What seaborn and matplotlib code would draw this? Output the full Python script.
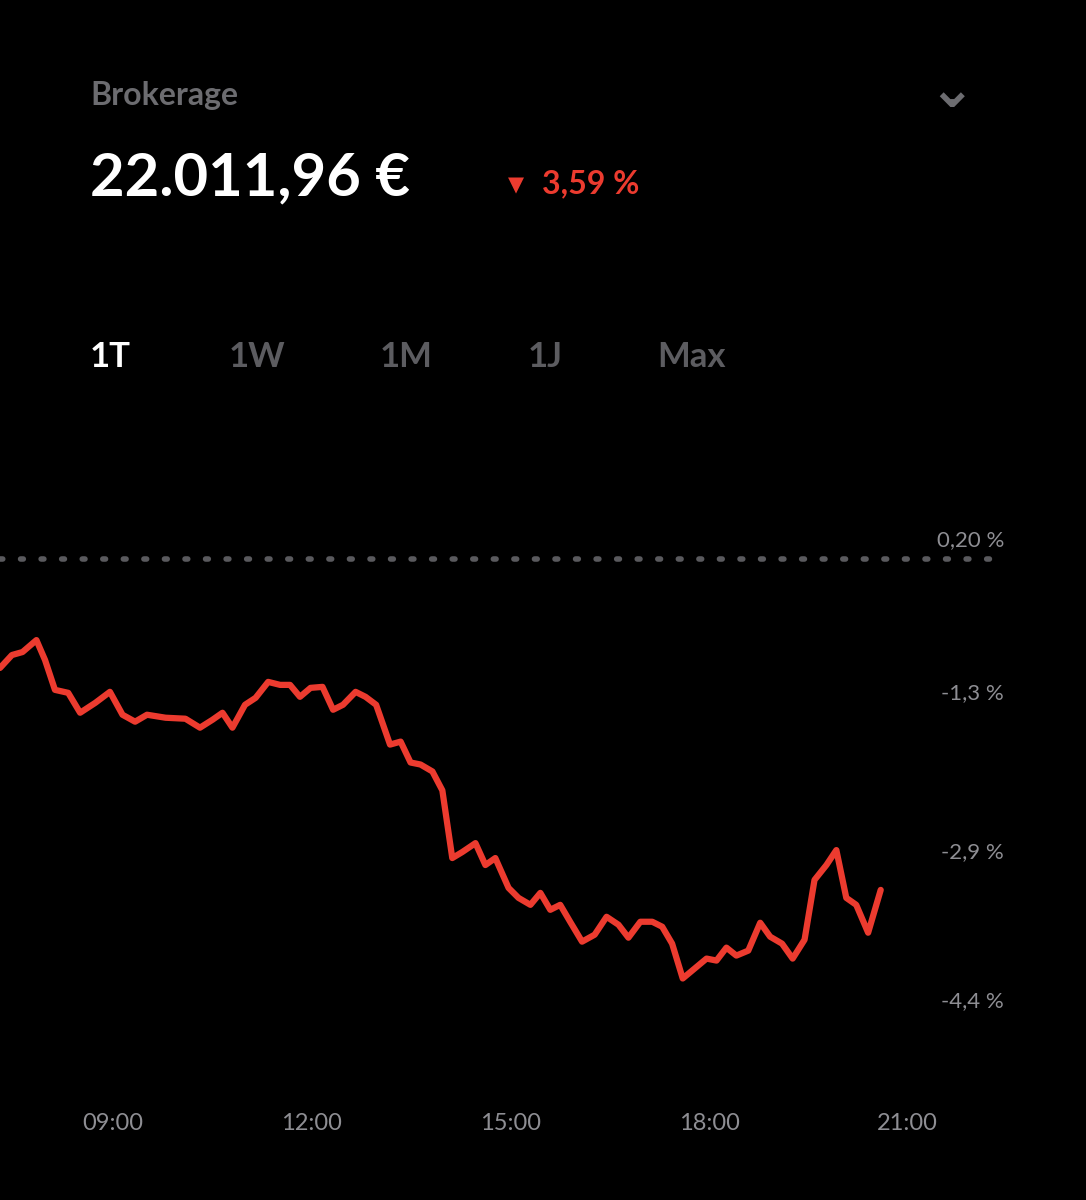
import matplotlib
matplotlib.use("Agg")
import matplotlib.pyplot as plt
import seaborn as sns
import pandas as pd

# Intraday performance (hour of day, percent change)
hours = [7.29, 7.47, 7.63, 7.84, 7.97, 8.12, 8.32, 8.50, 8.73, 8.95, 9.14, 9.33, 9.51, 9.79,
         10.09, 10.31, 10.50, 10.65, 10.80, 10.99, 11.15, 11.34, 11.52, 11.67, 11.82, 11.98,
         12.16, 12.32, 12.47, 12.66, 12.81, 12.97, 13.18, 13.34, 13.49, 13.64, 13.82, 13.97,
         14.12, 14.27, 14.47, 14.62, 14.77, 14.97, 15.12, 15.30, 15.45, 15.60, 15.75, 15.90,
         16.08, 16.27, 16.45, 16.63, 16.78, 16.96, 17.14, 17.29, 17.44, 17.60, 17.78, 17.96,
         18.11, 18.26, 18.41, 18.59, 18.77, 18.92, 19.10, 19.26, 19.44, 19.59, 19.77, 19.92,
         20.07, 20.22, 20.40, 20.59]
pct = [-1.05, -0.92, -0.89, -0.77, -0.97, -1.27, -1.30, -1.50, -1.40, -1.29, -1.52, -1.59,
       -1.52, -1.55, -1.56, -1.65, -1.57, -1.50, -1.65, -1.42, -1.35, -1.19, -1.22, -1.22,
       -1.34, -1.25, -1.24, -1.47, -1.42, -1.29, -1.34, -1.42, -1.82, -1.79, -2.00, -2.02,
       -2.09, -2.28, -2.96, -2.90, -2.81, -3.03, -2.96, -3.26, -3.36, -3.43, -3.31, -3.48,
       -3.43, -3.60, -3.80, -3.73, -3.55, -3.63, -3.76, -3.60, -3.60, -3.65, -3.82, -4.17,
       -4.07, -3.97, -3.99, -3.86, -3.94, -3.89, -3.61, -3.75, -3.82, -3.97, -3.78, -3.18,
       -3.03, -2.88, -3.36, -3.43, -3.71, -3.28]

baseline_pct = 0.04
baseline_label = "0,20 %"
y_ticks = [-1.3, -2.9, -4.4]
y_labels = ["-1,3 %", "-2,9 %", "-4,4 %"]
x_ticks = [9, 12, 15, 18, 21]
x_labels = ["09:00", "12:00", "15:00", "18:00", "21:00"]
periods = ["1T", "1W", "1M", "1J", "Max"]

RED = "#ec3b2f"
GREY = "#6c6c70"
LABEL = "#8e8e93"

sns.set_style("dark")
plt.rcParams["font.family"] = ["Lato", "DejaVu Sans"]

fig = plt.figure(figsize=(10.86, 12), dpi=100, facecolor="black")
ax = fig.add_axes([0, 0.1, 1, 0.525])
ax.set_facecolor("black")

df = pd.DataFrame({"hour": hours, "pct": pct})
sns.lineplot(data=df, x="hour", y="pct", ax=ax, color=RED, linewidth=4.5)
ax.axhline(baseline_pct, color="#5a5a5e", linestyle=(0, (0.5, 3.2)), linewidth=4,
           dash_capstyle="round", xmax=0.912)

ax.set_xlim(7.29, 23.69)
ax.set_ylim(-5.19, 1.14)
ax.set_xticks([])
ax.set_yticks([])
ax.set_xlabel("")
ax.set_ylabel("")
for s in ax.spines.values():
    s.set_visible(False)
ax.grid(False)

for t, lab in zip(y_ticks, y_labels):
    ax.text(20.85 + 1.6, t, lab, color=LABEL, fontsize=16, ha="right", va="center")
ax.text(22.45, baseline_pct + 0.19, baseline_label, color=LABEL, fontsize=16,
        ha="right", va="center")

for xt, lab in zip(x_ticks, x_labels):
    fig.text((xt - 7.29) * 66.2 / 1086, 1 - 1123 / 1200, lab, color=LABEL,
             fontsize=17, ha="center", va="center")

# header
fig.text(90 / 1086, 1 - 95 / 1200, "Brokerage", color=GREY, fontsize=23,
         fontweight="bold", va="center")
fig.text(90 / 1086, 1 - 178 / 1200, "22.011,96 €", color="white", fontsize=43,
         fontweight="bold", va="center")
fig.text(508 / 1086, 1 - 185 / 1200, "▼", color=RED, fontsize=15, va="center",
         family=["DejaVu Sans"])
fig.text(542 / 1086, 1 - 184 / 1200, "3,59 %", color=RED, fontsize=23,
         fontweight="bold", va="center")
fig.text(952 / 1086, 1 - 92 / 1200, "⌄", color=GREY, fontsize=40, ha="center",
         va="center", family=["DejaVu Sans"], fontweight="bold")

for i, p in enumerate(periods):
    xpos = [90, 229, 380, 528, 657][i]
    fig.text(xpos / 1086, 1 - 357 / 1200, p, color="white" if i == 0 else "#5c5c60",
             fontsize=25, fontweight="bold", va="center")

fig.savefig("out.png", dpi=100, facecolor="black")
